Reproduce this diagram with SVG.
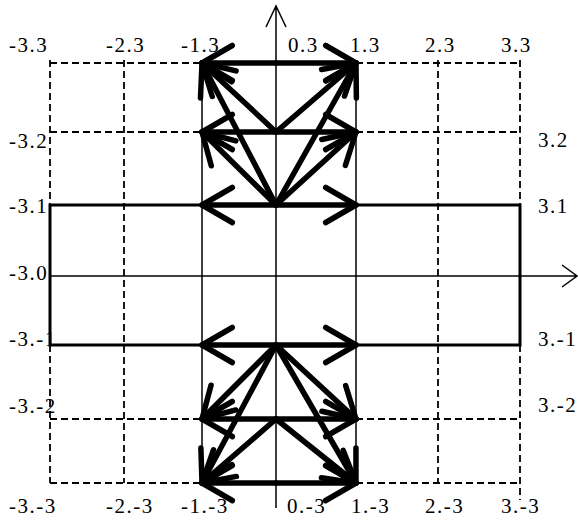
<svg xmlns="http://www.w3.org/2000/svg" width="578" height="523" viewBox="0 0 578 523">
<style>
.lbl{font-family:"Liberation Serif","Times New Roman","DejaVu Serif",serif;font-size:21px;letter-spacing:1.5px;fill:#000}
.dash{stroke:#000;stroke-width:1.8;stroke-dasharray:7,4;fill:none}
.thin{stroke:#000;stroke-width:1.5;fill:none}
.mid{stroke:#000;stroke-width:3;fill:none}
.arr{stroke:#000;stroke-width:5.5;stroke-linecap:round;fill:none;marker-end:url(#ah)}
</style>
<defs>
<marker id="ah" markerUnits="userSpaceOnUse" orient="auto" overflow="visible" markerWidth="1" markerHeight="1" refX="0" refY="0">
<path d="M-30.3,-17.5 L0,0 L-30.3,17.5" fill="none" stroke="#000" stroke-width="5.5" stroke-linecap="round" stroke-linejoin="round"/>
</marker>
</defs>
<rect width="578" height="523" fill="#fff"/>
<g id="labels">
<text class="lbl" x="9" y="52">-3.3</text>
<text class="lbl" x="106" y="52">-2.3</text>
<text class="lbl" x="181" y="52">-1.3</text>
<text class="lbl" x="288" y="52">0.3</text>
<text class="lbl" x="350" y="52">1.3</text>
<text class="lbl" x="425" y="52">2.3</text>
<text class="lbl" x="501" y="52">3.3</text>
<text class="lbl" x="9" y="148">-3.2</text>
<text class="lbl" x="9" y="213">-3.1</text>
<text class="lbl" x="9" y="280">-3.0</text>
<text class="lbl" x="9" y="346">-3.-1</text>
<text class="lbl" x="9" y="413">-3.-2</text>
<text class="lbl" x="9" y="513">-3.-3</text>
<text class="lbl" x="106" y="513">-2.-3</text>
<text class="lbl" x="181" y="513">-1.-3</text>
<text class="lbl" x="287" y="513">0.-3</text>
<text class="lbl" x="351" y="513">1.-3</text>
<text class="lbl" x="425" y="513">2.-3</text>
<text class="lbl" x="501" y="513">3.-3</text>
<text class="lbl" x="538" y="147">3.2</text>
<text class="lbl" x="538" y="213">3.1</text>
<text class="lbl" x="538" y="346">3.-1</text>
<text class="lbl" x="538" y="412">3.-2</text>
</g>
<g id="grid">
<path class="dash" d="M50,63H202M356,63H520M50,132H202M356,132H520M50,419H202M356,419H520M50,483H202M356,483H520"/>
<path class="dash" d="M50,60V205M50,345V483M124,60V483M438,60V483M520,60V205M520,345V500"/>
<path class="thin" d="M202,63V483M356,63V483"/>
<path class="mid" d="M50,205H520V345H50Z"/>
</g>
<g id="axes">
<path class="thin" d="M50,276H577M562,265L577,276L562,287"/>
<path class="thin" d="M276,508V6M266,27L276,6L286,27"/>
</g>
<g id="connectors">
<line class="arr" x1="276" y1="63" x2="202" y2="63"/>
<line class="arr" x1="276" y1="63" x2="356" y2="63"/>
<line class="arr" x1="276" y1="132" x2="202" y2="132"/>
<line class="arr" x1="276" y1="132" x2="356" y2="132"/>
<line class="arr" x1="276" y1="132" x2="202" y2="63"/>
<line class="arr" x1="276" y1="132" x2="356" y2="63"/>
<line class="arr" x1="276" y1="205" x2="202" y2="205"/>
<line class="arr" x1="276" y1="205" x2="356" y2="205"/>
<line class="arr" x1="276" y1="205" x2="202" y2="132"/>
<line class="arr" x1="276" y1="205" x2="356" y2="132"/>
<line class="arr" x1="276" y1="205" x2="202" y2="63"/>
<line class="arr" x1="276" y1="205" x2="356" y2="63"/>
<line class="arr" x1="276" y1="483" x2="202" y2="483"/>
<line class="arr" x1="276" y1="483" x2="356" y2="483"/>
<line class="arr" x1="276" y1="419" x2="202" y2="419"/>
<line class="arr" x1="276" y1="419" x2="356" y2="419"/>
<line class="arr" x1="276" y1="419" x2="202" y2="483"/>
<line class="arr" x1="276" y1="419" x2="356" y2="483"/>
<line class="arr" x1="276" y1="345" x2="202" y2="345"/>
<line class="arr" x1="276" y1="345" x2="356" y2="345"/>
<line class="arr" x1="276" y1="345" x2="202" y2="419"/>
<line class="arr" x1="276" y1="345" x2="356" y2="419"/>
<line class="arr" x1="276" y1="345" x2="202" y2="483"/>
<line class="arr" x1="276" y1="345" x2="356" y2="483"/>
</g>
</svg>
